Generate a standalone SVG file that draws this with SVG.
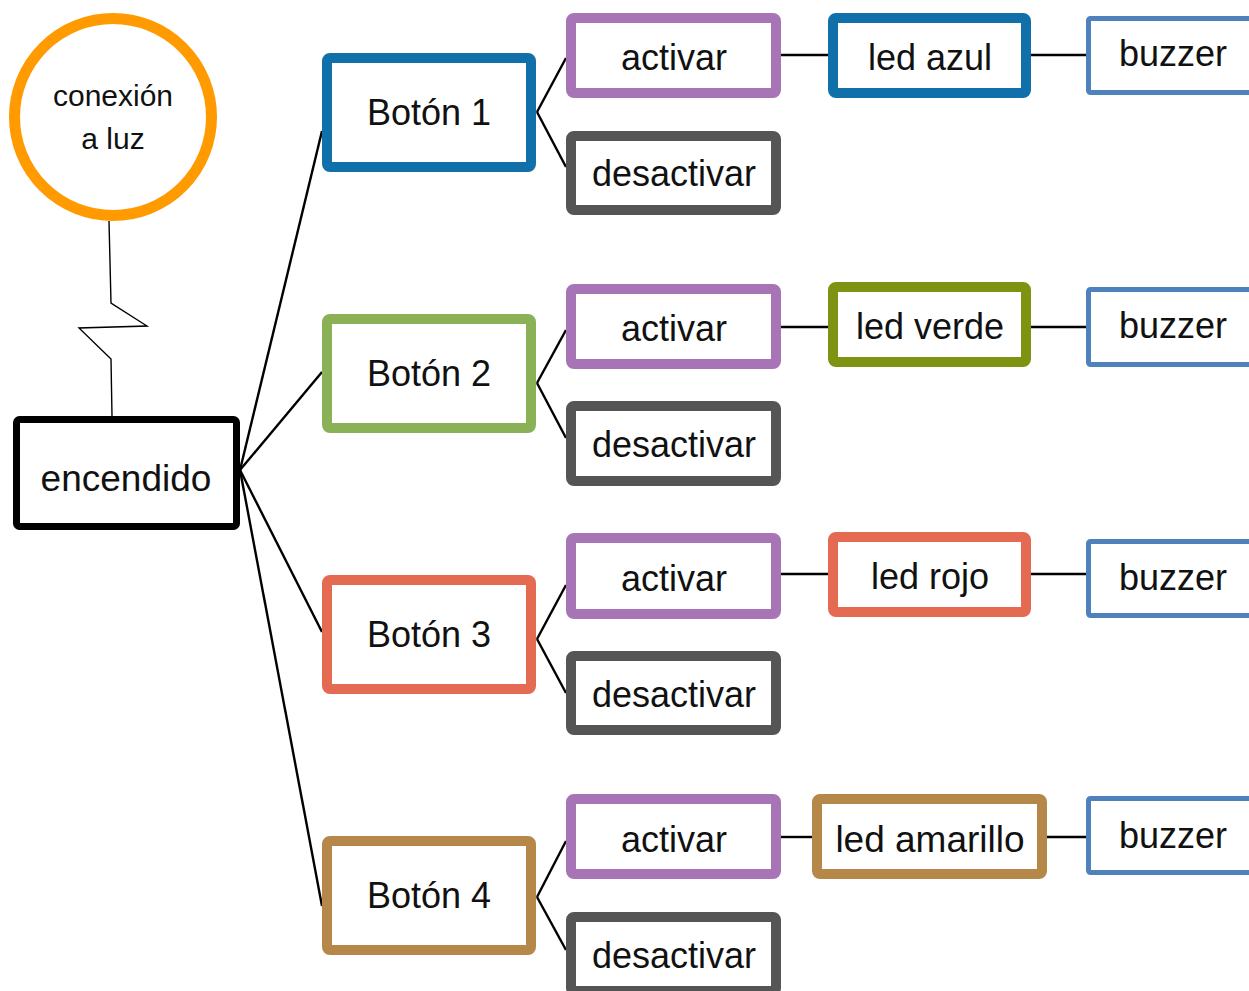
<svg xmlns="http://www.w3.org/2000/svg" width="1249" height="991" viewBox="0 0 1249 991">
<style>
  text { font-family: "Liberation Sans", Arial, sans-serif; font-size: 36px; fill: #111; text-anchor: middle; }
  .box { fill: #fff; stroke-width: 10; }
  .boton1, .azul { stroke: #1170AA; }
  .boton2 { stroke: #8BB157; }
  .verde { stroke: #7E9312; }
  .boton3, .rojo { stroke: #E46A51; }
  .boton4, .amarillo { stroke: #B5884A; }
  .act { stroke: #A775B5; }
  .des { stroke: #555555; }
  .buzz { fill: #fff; stroke: #4F81BD; stroke-width: 5; }
  .conn line, .conn polyline { stroke: #000; stroke-width: 2.4; fill: none; }
</style>
<rect width="1249" height="991" fill="#fff"/>

<g id="connectors" class="conn">
  <polyline points="109,221 111,303 147,326 79,328 111,359 112,416" style="stroke-width:1.4"/>
  <line x1="240" y1="470" x2="322" y2="131"/>
  <line x1="240" y1="470" x2="322" y2="372"/>
  <line x1="240" y1="470" x2="322" y2="632"/>
  <line x1="240" y1="470" x2="322" y2="906"/>
  <line x1="537" y1="112" x2="566" y2="58"/>
  <line x1="537" y1="112" x2="566" y2="167"/>
  <line x1="537" y1="383" x2="566" y2="330"/>
  <line x1="537" y1="383" x2="566" y2="438"/>
  <line x1="537" y1="639" x2="566" y2="585"/>
  <line x1="537" y1="639" x2="566" y2="693"/>
  <line x1="537" y1="897" x2="566" y2="841"/>
  <line x1="537" y1="897" x2="566" y2="950"/>
  <line x1="781" y1="55" x2="828" y2="55"/>
  <line x1="1031" y1="55" x2="1086" y2="55"/>
  <line x1="781" y1="327" x2="828" y2="327"/>
  <line x1="1031" y1="327" x2="1086" y2="327"/>
  <line x1="781" y1="574" x2="828" y2="574"/>
  <line x1="1031" y1="574" x2="1086" y2="574"/>
  <line x1="781" y1="837" x2="812" y2="837"/>
  <line x1="1047" y1="837" x2="1086" y2="837"/>
</g>

<g id="conexion">
  <circle cx="113" cy="117" r="98.5" fill="#fff" stroke="#FF9A00" stroke-width="11"/>
  <text x="113" y="106" style="font-size:30px">conexión</text>
  <text x="113" y="149" style="font-size:30px">a luz</text>
</g>

<g id="encendido">
  <rect x="16.5" y="419.5" width="220" height="107" rx="3" fill="#fff" stroke="#000" stroke-width="7"/>
  <text x="126" y="491" style="font-size:37px">encendido</text>
</g>

<g id="boton1"><rect class="box boton1" x="327" y="58" width="204" height="109" rx="3"/><text x="429" y="125">Botón 1</text></g>
<g id="boton2"><rect class="box boton2" x="327" y="319" width="204" height="109" rx="3"/><text x="429" y="386">Botón 2</text></g>
<g id="boton3"><rect class="box boton3" x="327" y="580" width="204" height="109" rx="3"/><text x="429" y="647">Botón 3</text></g>
<g id="boton4"><rect class="box boton4" x="327" y="841" width="204" height="109" rx="3"/><text x="429" y="908">Botón 4</text></g>

<g id="activar1"><rect class="box act" x="571" y="18" width="205" height="75" rx="3"/><text x="674" y="70">activar</text></g>
<g id="desactivar1"><rect class="box des" x="571" y="136" width="205" height="74" rx="3"/><text x="674" y="186">desactivar</text></g>
<g id="activar2"><rect class="box act" x="571" y="289" width="205" height="75" rx="3"/><text x="674" y="341">activar</text></g>
<g id="desactivar2"><rect class="box des" x="571" y="406" width="205" height="75" rx="3"/><text x="674" y="457">desactivar</text></g>
<g id="activar3"><rect class="box act" x="571" y="538" width="205" height="76" rx="3"/><text x="674" y="591">activar</text></g>
<g id="desactivar3"><rect class="box des" x="571" y="656" width="205" height="74" rx="3"/><text x="674" y="707">desactivar</text></g>
<g id="activar4"><rect class="box act" x="571" y="799" width="205" height="75" rx="3"/><text x="674" y="852">activar</text></g>
<g id="desactivar4"><rect class="box des" x="571" y="917" width="205" height="74" rx="3"/><text x="674" y="968">desactivar</text></g>

<g id="led-azul"><rect class="box azul" x="833" y="18" width="193" height="75" rx="3"/><text x="930" y="70">led azul</text></g>
<g id="led-verde"><rect class="box verde" x="833" y="287" width="193" height="75" rx="3"/><text x="930" y="339">led verde</text></g>
<g id="led-rojo"><rect class="box rojo" x="833" y="537" width="193" height="75" rx="3"/><text x="930" y="589">led rojo</text></g>
<g id="led-amarillo"><rect class="box amarillo" x="817" y="799" width="225" height="75" rx="3"/><text x="930" y="852" style="font-size:37px">led amarillo</text></g>

<g id="buzzer1"><rect class="buzz" x="1088.5" y="18.5" width="200" height="74" rx="2"/><text x="1173" y="66">buzzer</text></g>
<g id="buzzer2"><rect class="buzz" x="1088.5" y="289.5" width="200" height="75" rx="2"/><text x="1173" y="338">buzzer</text></g>
<g id="buzzer3"><rect class="buzz" x="1088.5" y="541.5" width="200" height="74" rx="2"/><text x="1173" y="590">buzzer</text></g>
<g id="buzzer4"><rect class="buzz" x="1088.5" y="798.5" width="200" height="74" rx="2"/><text x="1173" y="848">buzzer</text></g>
</svg>
